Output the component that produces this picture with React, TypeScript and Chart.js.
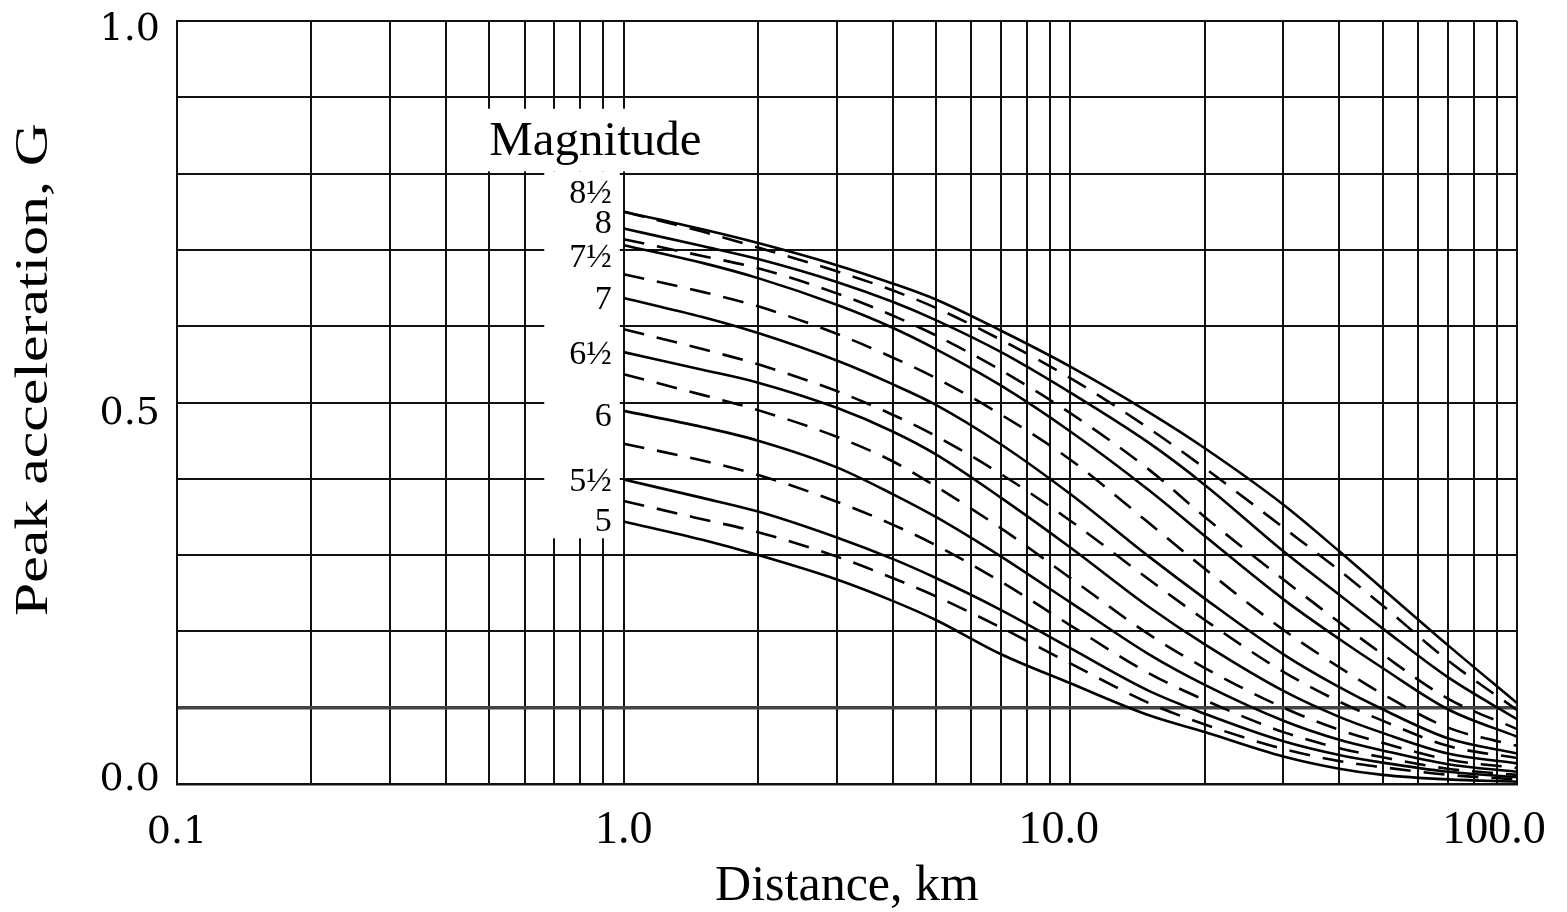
import React, { useEffect, useRef } from 'react';
import { Chart, registerables } from 'chart.js';

Chart.register(...registerables);

// ---------- data ----------
const DISTANCE_KM = [1, 1.5, 2, 3, 4, 5, 7, 10, 15, 20, 30, 40, 50, 70, 100];

// solid curves (magnitude 8½ ... 5)
const SOLID_M85 = [0.750, 0.727, 0.709, 0.680, 0.656, 0.635, 0.594, 0.547, 0.487, 0.440, 0.366, 0.305, 0.256, 0.182, 0.106];
const SOLID_M80 = [0.728, 0.705, 0.688, 0.658, 0.632, 0.608, 0.566, 0.513, 0.447, 0.392, 0.305, 0.248, 0.204, 0.140, 0.085];
const SOLID_M75 = [0.706, 0.683, 0.663, 0.628, 0.598, 0.570, 0.522, 0.462, 0.385, 0.325, 0.242, 0.190, 0.152, 0.098, 0.062];
const SOLID_M70 = [0.637, 0.612, 0.591, 0.555, 0.524, 0.497, 0.445, 0.380, 0.298, 0.243, 0.170, 0.127, 0.098, 0.060, 0.040];
const SOLID_M65 = [0.566, 0.543, 0.526, 0.493, 0.462, 0.432, 0.375, 0.310, 0.232, 0.183, 0.122, 0.088, 0.067, 0.040, 0.027];
const SOLID_M60 = [0.489, 0.468, 0.450, 0.415, 0.380, 0.350, 0.298, 0.238, 0.170, 0.130, 0.083, 0.058, 0.044, 0.026, 0.016];
const SOLID_M55 = [0.399, 0.375, 0.357, 0.323, 0.295, 0.270, 0.228, 0.178, 0.122, 0.092, 0.056, 0.038, 0.028, 0.016, 0.009];
const SOLID_M50 = [0.344, 0.320, 0.300, 0.268, 0.240, 0.215, 0.170, 0.132, 0.090, 0.068, 0.036, 0.020, 0.012, 0.006, 0.003];

// dashed curves
const DASHED_1 = [0.750, 0.724, 0.703, 0.672, 0.647, 0.624, 0.582, 0.532, 0.466, 0.414, 0.336, 0.280, 0.234, 0.162, 0.097];
const DASHED_2 = [0.714, 0.692, 0.676, 0.643, 0.614, 0.588, 0.542, 0.486, 0.412, 0.350, 0.268, 0.212, 0.170, 0.112, 0.072];
const DASHED_3 = [0.668, 0.645, 0.626, 0.590, 0.559, 0.532, 0.484, 0.425, 0.342, 0.282, 0.202, 0.153, 0.118, 0.074, 0.050];
const DASHED_4 = [0.596, 0.570, 0.550, 0.515, 0.484, 0.456, 0.406, 0.345, 0.268, 0.215, 0.147, 0.108, 0.083, 0.050, 0.034];
const DASHED_5 = [0.537, 0.510, 0.490, 0.455, 0.423, 0.390, 0.335, 0.270, 0.196, 0.152, 0.100, 0.071, 0.054, 0.032, 0.021];
const DASHED_6 = [0.446, 0.424, 0.405, 0.370, 0.340, 0.313, 0.265, 0.208, 0.145, 0.110, 0.068, 0.047, 0.035, 0.020, 0.012];
const DASHED_7 = [0.371, 0.347, 0.330, 0.298, 0.270, 0.246, 0.205, 0.158, 0.106, 0.078, 0.046, 0.030, 0.022, 0.012, 0.006];

const SOLID_SERIES = [SOLID_M85, SOLID_M80, SOLID_M75, SOLID_M70, SOLID_M65, SOLID_M60, SOLID_M55, SOLID_M50];
const DASHED_SERIES = [DASHED_1, DASHED_2, DASHED_3, DASHED_4, DASHED_5, DASHED_6, DASHED_7];

const MAGNITUDE_LABELS = ['8½', '8', '7½', '7', '6½', '6', '5½', '5'];
const MAGNITUDE_LABEL_G = [0.761, 0.722, 0.678, 0.622, 0.550, 0.469, 0.384, 0.332];

const X_GRID = [0.1, 0.2, 0.3, 0.4, 0.5, 0.6, 0.7, 0.8, 0.9, 1, 2, 3, 4, 5, 6, 7, 8, 9, 10, 20, 30, 40, 50, 60, 70, 80, 90, 100];
const X_LABEL_VALUES = [0.1, 1, 10, 100];
const X_LABEL_TEXT = ['0.1', '1.0', '10.0', '100.0'];
const Y_LABEL_VALUES = [0, 0.5, 1];
const Y_LABEL_TEXT = ['0.0', '0.5', '1.0'];

const X_TITLE = 'Distance, km';
const Y_TITLE = 'Peak acceleration, G';
const LEGEND_TITLE = 'Magnitude';

const SERIF = '"Liberation Serif", "Times New Roman", serif';
const WIDE_SERIF = '"DejaVu Serif", serif';

// small vertical nudges of the y tick labels, as in the original artwork
const Y_LABEL_NUDGE = [-8, 7, 5];

const decorPlugin = {
  id: 'decor',
  beforeDatasetsDraw(chart: any) {
    const { ctx, scales } = chart;
    const xs = scales.x;
    const ys = scales.y;
    ctx.save();
    ctx.fillStyle = '#ffffff';
    // white masks behind the magnitude labels
    const b1l = xs.getPixelForValue(0.49), b1r = xs.getPixelForValue(1.54);
    const b1t = ys.getPixelForValue(0.885), b1b = ys.getPixelForValue(0.803);
    ctx.fillRect(b1l, b1t, b1r - b1l, b1b - b1t);
    const b2l = xs.getPixelForValue(0.664), b2r = xs.getPixelForValue(0.98);
    const b2t = ys.getPixelForValue(0.803), b2b = ys.getPixelForValue(0.322);
    ctx.fillRect(b2l, b2t, b2r - b2l, b2b - b2t);

    ctx.fillStyle = '#000';
    ctx.font = `49px ${SERIF}`;
    ctx.textAlign = 'left';
    ctx.textBaseline = 'alphabetic';
    ctx.fillText(LEGEND_TITLE, xs.getPixelForValue(0.5), ys.getPixelForValue(0.824));

    ctx.font = `34px ${SERIF}`;
    ctx.textAlign = 'right';
    const lx = xs.getPixelForValue(0.94);
    MAGNITUDE_LABELS.forEach((t, i) => {
      ctx.fillText(t, lx, ys.getPixelForValue(MAGNITUDE_LABEL_G[i]));
    });
    ctx.restore();
  },
  afterDraw(chart: any) {
    const { ctx, scales } = chart;
    const xs = scales.x;
    const ys = scales.y;
    ctx.save();
    ctx.fillStyle = '#000';

    // x tick labels, decimal point aligned on the grid line
    ctx.textAlign = 'left';
    ctx.textBaseline = 'alphabetic';
    const xBase = xs.top + 59;
    X_LABEL_VALUES.forEach((v, i) => {
      const t = X_LABEL_TEXT[i];
      ctx.font = i === 0 ? `38px ${WIDE_SERIF}` : `46px ${SERIF}`;
      const dot = t.indexOf('.');
      const pre = ctx.measureText(t.slice(0, dot)).width;
      const dw = ctx.measureText('.').width;
      const px = xs.getPixelForValue(v);
      ctx.fillText(t, px - pre - dw / 2, xBase);
    });

    // y tick labels
    ctx.font = `38px ${WIDE_SERIF}`;
    ctx.textAlign = 'right';
    Y_LABEL_VALUES.forEach((v, i) => {
      const py = ys.getPixelForValue(v) + Y_LABEL_NUDGE[i] + 14;
      ctx.fillText(Y_LABEL_TEXT[i], ys.right - 17, py);
    });

    // y title (tall, stretched lettering)
    ctx.font = `46px ${SERIF}`;
    ctx.textAlign = 'center';
    ctx.textBaseline = 'middle';
    const cy = (ys.top + ys.bottom) / 2 - 33;
    ctx.translate(35, cy);
    ctx.rotate(-Math.PI / 2);
    ctx.scale(1.3, 1);
    ctx.fillText(Y_TITLE, 0, 0);
    ctx.restore();
  },
};

const zeroPadding = (scale: any) => {
  scale.paddingLeft = 0;
  scale.paddingRight = 0;
  scale.paddingTop = 0;
  scale.paddingBottom = 0;
};

export default function App() {
  const canvasRef = useRef<HTMLCanvasElement | null>(null);

  useEffect(() => {
    const canvas = canvasRef.current;
    if (!canvas) return;
    const datasets: any[] = [];
    SOLID_SERIES.forEach((s, i) => {
      datasets.push({
        label: 'M ' + MAGNITUDE_LABELS[i],
        data: DISTANCE_KM.map((d, j) => ({ x: d, y: s[j] })),
        borderColor: '#000',
        borderWidth: 2.6,
        pointRadius: 0,
        fill: false,
        cubicInterpolationMode: 'monotone',
      });
    });
    DASHED_SERIES.forEach((s, i) => {
      datasets.push({
        label: 'dashed ' + (i + 1),
        data: DISTANCE_KM.map((d, j) => ({ x: d, y: s[j] })),
        borderColor: '#000',
        borderWidth: 2.6,
        borderDash: [21, 13],
        pointRadius: 0,
        fill: false,
        cubicInterpolationMode: 'monotone',
      });
    });

    const chart = new Chart(canvas, {
      type: 'line',
      data: { datasets },
      plugins: [decorPlugin],
      options: {
        animation: false,
        responsive: true,
        maintainAspectRatio: false,
        layout: { padding: { top: 21, right: 50, left: 0, bottom: 0 } },
        plugins: { legend: { display: false }, tooltip: { enabled: false } },
        scales: {
          x: {
            type: 'logarithmic',
            min: 0.1,
            max: 100,
            afterBuildTicks: (scale: any) => {
              scale.ticks = X_GRID.map((v) => ({ value: v }));
            },
            afterFit: (scale: any) => {
              scale.height = 128;
              zeroPadding(scale);
            },
            grid: {
              color: '#111',
              lineWidth: 2,
              drawTicks: false,
            },
            border: { color: '#111', width: 2.5 },
            ticks: { display: false, autoSkip: false },
            title: {
              display: true,
              text: X_TITLE,
              color: '#000',
              font: { family: SERIF, size: 50, lineHeight: 1 },
              padding: { top: 0, bottom: 0 },
            },
          },
          y: {
            type: 'linear',
            min: 0,
            max: 1,
            afterFit: (scale: any) => {
              scale.width = 177;
              zeroPadding(scale);
            },
            grid: {
              color: (c: any) => (c.tick && Math.abs(c.tick.value - 0.1) < 1e-6 ? '#444' : '#111'),
              lineWidth: (c: any) => (c.tick && Math.abs(c.tick.value - 0.1) < 1e-6 ? 3.5 : 2),
              drawTicks: false,
            },
            border: { color: '#111', width: 2 },
            ticks: { display: false, stepSize: 0.1 },
          },
        },
      },
    });
    return () => chart.destroy();
  }, []);

  return (
    <div style={{ position: 'fixed', left: 0, top: 0, width: 1567, height: 912, background: '#fff' }}>
      <canvas ref={canvasRef} />
    </div>
  );
}
